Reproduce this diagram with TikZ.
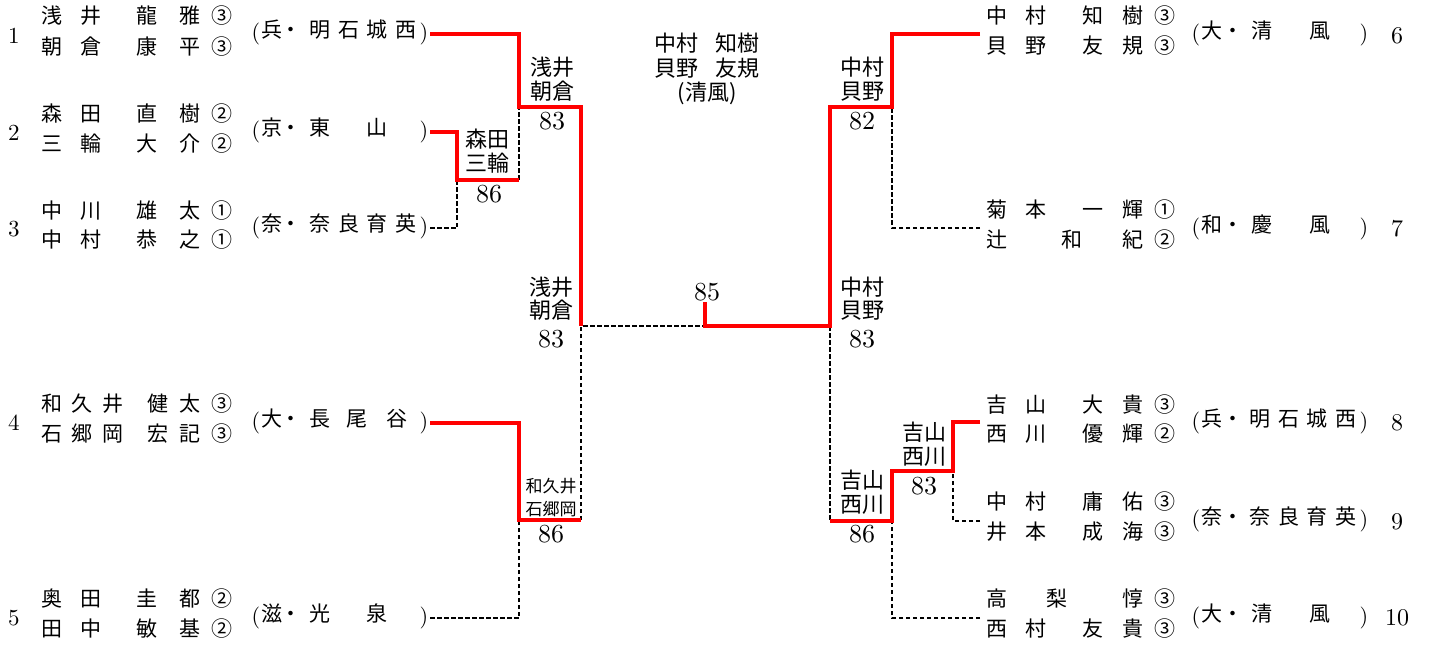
\documentclass[tikz,border=0pt]{standalone}
\usepackage{fontspec}
\setmainfont{lmroman10-regular}[Extension=.otf]
\newfontfamily\cjk{Noto Sans CJK JP}
\begin{document}
\begin{tikzpicture}[x=1pt,y=-1pt,
  nm/.style={font=\cjk\fontsize{21}{21}\selectfont, inner sep=0pt, text height=0.88em, text depth=0.12em},
  lb/.style={font=\cjk\fontsize{22}{22}\selectfont, inner sep=0pt, text height=0.88em, text depth=0.12em},
  sm/.style={font=\cjk\fontsize{17}{17}\selectfont, inner sep=0pt, text height=0.88em, text depth=0.12em},
  score/.style={font=\fontsize{26}{26}\selectfont, inner sep=0pt},
  lnum/.style={font=\fontsize{23}{23}\selectfont, inner sep=0pt},
  rnum/.style={font=\fontsize{24}{24}\selectfont, inner sep=0pt},
  paren/.style={font=\fontsize{22}{22}\selectfont, inner sep=0pt},
  win/.style={draw=red, line width=3.2pt, line join=miter},
  lose/.style={draw=black, line width=1.6pt, dash pattern=on 4.5pt off 2.5pt},
]
\useasboundingbox (0,0) rectangle (1429,647);

\newcommand\namerow[2]{\foreach \xx/\cc in {#2}{\node[nm] (n-\xx-#1) at (\xx,#1) {\cc};}}
\newcommand\schoolrow[3]{%
  \node[paren] (po-#1-#2) at (256+#1,#2) {(};
  \node[paren] (pc-#1-#2) at (424+#1,#2) {)};
  \foreach \xx/\cc in {#3}{\node[nm] (s-\xx-#1-#2) at (\xx+#1,#2) {\cc};}}

% ---------------- left entries
\node[lnum] (k1) at (14,36) {1};
\namerow{20}{52/浅,91/井,147/龍,190/雅,222/③}
\namerow{51}{52/朝,91/倉,147/康,190/平,222/③}
\schoolrow{0}{34}{272/兵,291/・,320/明,349/石,377/城,406/西}

\node[lnum] (k2) at (14,133) {2};
\namerow{118}{52/森,91/田,147/直,190/樹,222/②}
\namerow{148}{52/三,91/輪,147/大,190/介,222/②}
\schoolrow{0}{132}{272/京,291/・,320/東,377/山}

\node[lnum] (k3) at (14,229) {3};
\namerow{215}{52/中,91/川,147/雄,190/太,222/①}
\namerow{244}{52/中,91/村,147/恭,190/之,222/①}
\schoolrow{0}{228}{272/奈,291/・,320/奈,349/良,377/育,406/英}

\node[lnum] (k4) at (14,423) {4};
\namerow{408}{52/和,82/久,113/井,158/健,190/太,222/③}
\namerow{438}{52/石,82/郷,113/岡,158/宏,190/記,222/③}
\schoolrow{0}{423}{272/大,291/・,320/長,357/尾,397/谷}

\node[lnum] (k5) at (14,618) {5};
\namerow{603}{52/奥,91/田,147/圭,190/都,222/②}
\namerow{633}{52/田,91/中,147/敏,190/基,222/②}
\schoolrow{0}{618}{272/滋,291/・,320/光,377/泉}

% ---------------- right entries
\namerow{20}{997/中,1036/村,1093/知,1133/樹,1165/③}
\namerow{50}{997/貝,1036/野,1093/友,1133/規,1165/③}
\schoolrow{940}{35}{272/大,293/・,322/清,380/風}
\node[rnum] (k6) at (1397,36) {6};

\namerow{214}{997/菊,1036/本,1093/一,1133/輝,1165/①}
\namerow{244}{997/辻,1072/和,1133/紀,1165/②}
\schoolrow{940}{229}{272/和,293/・,322/慶,380/風}
\node[rnum] (k7) at (1397,229) {7};

\namerow{409}{997/吉,1036/山,1093/大,1133/貴,1165/③}
\namerow{438}{997/西,1036/川,1093/優,1133/輝,1165/②}
\schoolrow{940}{423}{272/兵,293/・,320/明,349/石,377/城,406/西}
\node[rnum] (k8) at (1397,423) {8};

\namerow{506}{997/中,1036/村,1093/庸,1133/佑,1165/③}
\namerow{536}{997/井,1036/本,1093/成,1133/海,1165/③}
\schoolrow{940}{521}{272/奈,293/・,320/奈,349/良,377/育,406/英}
\node[rnum] (k9) at (1397,522) {9};

\namerow{603}{997/高,1057/梨,1133/惇,1165/③}
\namerow{633}{997/西,1036/村,1093/友,1133/貴,1165/③}
\schoolrow{940}{618}{272/大,293/・,322/清,380/風}
\node[rnum] (k10) at (1397,618) {10};

% ---------------- title and labels
\node[lb] (t1) at (707,48) {中村\hspace{0.8em}知樹};
\node[lb] (t2) at (707,73) {貝野\hspace{0.8em}友規};
\node[lb] (t3) at (707,97) {(清風)};

\node[lb] (a1) at (487,144) {森田};
\node[lb] (a2) at (487,168) {三輪};
\node[score] (a3) at (489,194) {86};

\node[lb] (b1) at (552,72) {浅井};
\node[lb] (b2) at (552,96) {朝倉};
\node[score] (b3) at (552,121) {83};

\node[lb] (c1) at (551,292) {浅井};
\node[lb] (c2) at (551,315) {朝倉};
\node[score] (c3) at (551,339) {83};

\node[sm] (d1) at (551,489) {和久井};
\node[sm] (d2) at (551,512) {石郷岡};
\node[score] (d3) at (551,534) {86};

\node[score] (f1) at (707,292) {85};

\node[lb] (g1) at (862,72) {中村};
\node[lb] (g2) at (862,96) {貝野};
\node[score] (g3) at (862,121) {82};

\node[lb] (h1) at (862,292) {中村};
\node[lb] (h2) at (862,315) {貝野};
\node[score] (h3) at (862,339) {83};

\node[lb] (i1) at (924,437) {吉山};
\node[lb] (i2) at (924,461) {西川};
\node[score] (i3) at (924,486) {83};

\node[lb] (j1) at (862,485) {吉山};
\node[lb] (j2) at (862,509) {西川};
\node[score] (j3) at (862,534) {86};

% ---------------- connector points
\coordinate (e1) at (430,34);
\coordinate (e2) at (430,132);
\coordinate (e3) at (430,228);
\coordinate (e4) at (430,423);
\coordinate (e5) at (430,618);
\coordinate (m23) at (457,180);
\coordinate (m1) at (519,107);
\coordinate (m45) at (519,520);
\coordinate (sL) at (581,326);
\coordinate (fin) at (705,326);
\coordinate (fintop) at (705,302);
\coordinate (sR) at (830,326);
\coordinate (m67) at (892,107);
\coordinate (m89) at (953,471);
\coordinate (m810) at (892,521);
\coordinate (e6) at (980,34);
\coordinate (e7) at (980,228);
\coordinate (e8) at (980,422);
\coordinate (e9) at (980,521);
\coordinate (e10) at (980,618);

% losers (dashed)
\draw[lose] (e3) -| (m23);
\draw[lose] (m1 |- m23) -- (m1);
\draw[lose] (e5) -| (m45);
\draw[lose] (sL |- m45) -- (sL) -- (fin);
\draw[lose] (sR) -- (sR |- m810);
\draw[lose] (e7) -| (m67);
\draw[lose] (e9) -| (m89);
\draw[lose] (e10) -| (m810);

% winners (red)
\draw[win] (e2) -| (m23) -- (m1 |- m23);
\draw[win] (e1) -| (m1) -- (sL |- m1) -- (sL);
\draw[win] (e4) -| (m45) -- (sL |- m45);
\draw[win] (e6) -| (m67) -- (sR |- m67) -- (sR) -- (fin) -- (fintop);
\draw[win] (e8) -| (m89) -- (m810 |- m89) -- (m810) -- (sR |- m810);
\end{tikzpicture}
\end{document}
